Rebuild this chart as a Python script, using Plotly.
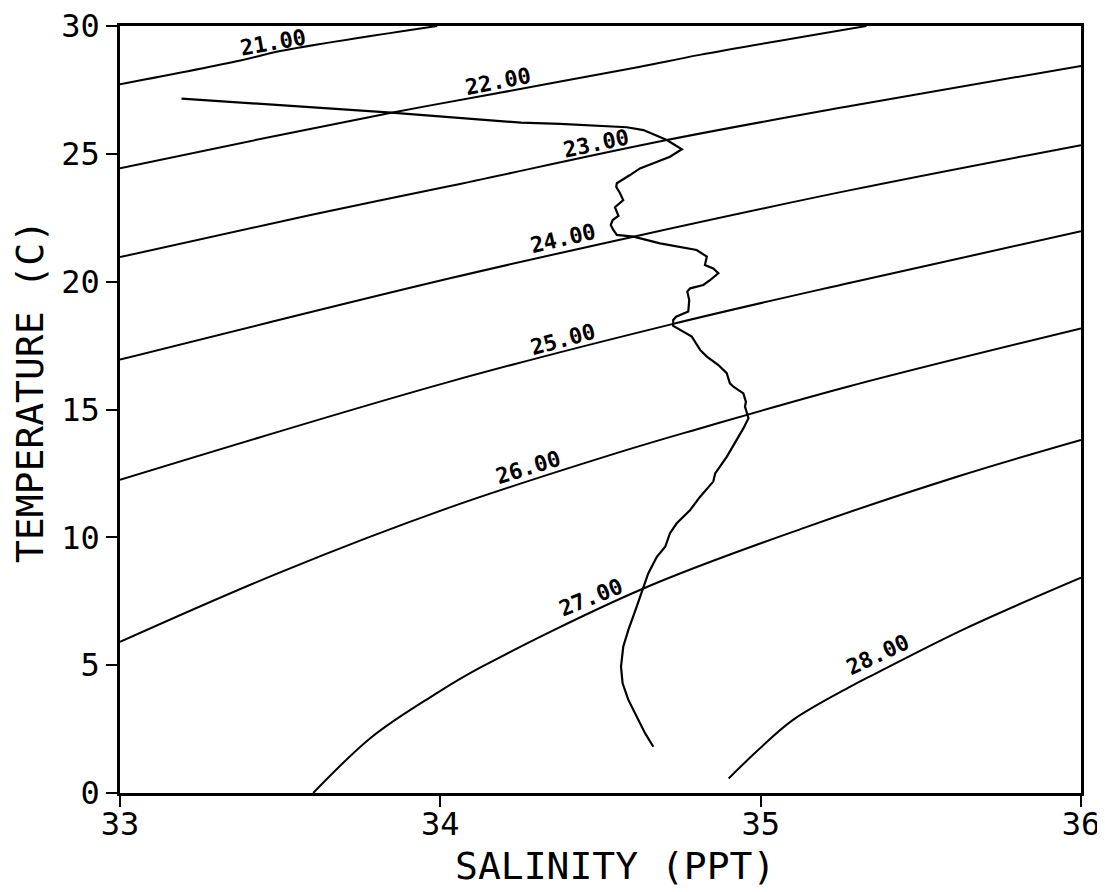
import plotly.graph_objects as go

# ---- CTD profile (salinity PPT, temperature C) ----
profile_sal = [33.192, 33.595, 33.847, 34.252, 34.374, 34.582, 34.634, 34.707, 34.754, 34.717,
               34.623, 34.592, 34.551, 34.549, 34.561, 34.571, 34.545, 34.556, 34.538, 34.532,
               34.540, 34.551, 34.603, 34.686, 34.800, 34.832, 34.826, 34.852, 34.868, 34.842,
               34.821, 34.780, 34.771, 34.777, 34.774, 34.736, 34.727, 34.727, 34.748, 34.785,
               34.811, 34.832, 34.868, 34.894, 34.904, 34.915, 34.946, 34.954, 34.951, 34.957,
               34.962, 34.946, 34.925, 34.894, 34.858, 34.852, 34.811, 34.780, 34.738, 34.717,
               34.702, 34.676, 34.649, 34.634, 34.613, 34.587, 34.571, 34.564, 34.569, 34.587,
               34.618, 34.639, 34.665]
profile_temp = [27.16, 26.82, 26.61, 26.22, 26.17, 26.04, 25.93, 25.54, 25.18, 24.89,
                24.43, 24.17, 23.85, 23.71, 23.46, 23.19, 22.91, 22.57, 22.41, 22.22,
                22.02, 21.83, 21.76, 21.50, 21.24, 20.98, 20.65, 20.52, 20.33, 20.06,
                19.87, 19.74, 19.61, 19.28, 18.83, 18.63, 18.50, 18.27, 18.11, 17.85,
                17.33, 17.07, 16.74, 16.42, 16.02, 15.89, 15.63, 15.30, 15.11, 14.85,
                14.66, 14.26, 13.81, 13.15, 12.50, 12.18, 11.59, 11.07, 10.55, 10.16,
                9.63, 9.24, 8.59, 8.01, 7.29, 6.38, 5.72, 4.94, 4.29, 3.64,
                2.86, 2.34, 1.81]

# ---- sigma-t isopycnals ----
sigma_labels = ["21.00", "22.00", "23.00", "24.00", "25.00", "26.00", "27.00", "28.00"]

sal_21 = [33.0, 33.376, 33.5, 33.99]
temp_21 = [27.72, 28.65, 29.02, 30.0]
sal_22 = [33.0, 33.5, 33.847, 34.13, 34.62, 34.81, 35.33]
temp_22 = [24.44, 25.74, 26.61, 27.26, 28.40, 28.87, 30.0]
sal_23 = [33.0, 33.595, 34.03, 34.707, 35.28, 36.0]
temp_23 = [20.96, 22.61, 23.74, 25.54, 26.87, 28.44]
sal_24 = [33.0, 34.03, 34.603, 35.28, 36.0]
temp_24 = [16.95, 20.13, 21.76, 23.58, 25.34]
sal_25 = [33.0, 34.03, 34.727, 35.28, 36.0]
temp_25 = [12.25, 16.09, 18.35, 19.96, 21.97]
sal_26 = [33.0, 33.5, 34.03, 34.58, 34.81, 35.28, 36.0]
temp_26 = [5.91, 8.63, 11.17, 13.41, 14.26, 15.92, 18.17]
sal_27 = [33.603, 33.786, 33.978, 34.124, 34.634, 35.14, 35.62, 36.0]
temp_27 = [0.0, 2.19, 3.82, 4.90, 8.0, 10.39, 12.4, 13.81]
sal_28 = [34.9, 34.998, 35.10, 35.28, 35.36, 35.64, 36.0]
temp_28 = [0.57, 1.75, 2.85, 4.16, 4.68, 6.44, 8.42]

isopycnal_sal = [sal_21, sal_22, sal_23, sal_24, sal_25, sal_26, sal_27, sal_28]
isopycnal_temp = [temp_21, temp_22, temp_23, temp_24, temp_25, temp_26, temp_27, temp_28]

# label anchor points (salinity, temperature) and text angles
label_sal = [33.478, 34.18, 34.486, 34.383, 34.383, 34.274, 34.47, 35.367]
label_temp = [29.37, 27.81, 25.42, 21.67, 17.72, 12.75, 7.63, 5.40]
label_angle = [-10, -11, -12, -13, -15, -17, -22, -25]

x_ticks = [33, 34, 35, 36]
y_ticks = [0, 5, 10, 15, 20, 25, 30]

fig = go.Figure()

for s, t in zip(isopycnal_sal, isopycnal_temp):
    fig.add_trace(go.Scatter(x=s, y=t, mode="lines", line=dict(color="black", width=2),
                             line_shape="spline", hoverinfo="skip", showlegend=False))

fig.add_trace(go.Scatter(x=profile_sal, y=profile_temp, mode="lines",
                         line=dict(color="black", width=2.2), showlegend=False))

mono = "DejaVu Sans Mono"
for txt, s, t, a in zip(sigma_labels, label_sal, label_temp, label_angle):
    fig.add_annotation(x=s, y=t, xref="x", yref="y", text=txt, showarrow=False,
                       textangle=a, xanchor="center", yanchor="middle",
                       font=dict(family=mono, size=22, color="black", weight="bold"))

fig.add_annotation(x=0.515, y=-0.0952, xref="paper", yref="paper", text="SALINITY (PPT)",
                   showarrow=False, xanchor="center", yanchor="middle",
                   font=dict(family=mono, size=38, color="black"))
fig.add_annotation(x=-0.0937, y=0.524, xref="paper", yref="paper", text="TEMPERATURE (C)",
                   showarrow=False, xanchor="center", yanchor="middle", textangle=-90,
                   font=dict(family=mono, size=38, color="black"))

axis_common = dict(showgrid=False, zeroline=False, showline=True, mirror=True,
                   linecolor="black", linewidth=2.5, ticks="outside", ticklen=11,
                   tickwidth=2, tickcolor="black", automargin=False,
                   ticklabeloverflow="allow",
                   tickfont=dict(family=mono, size=32, color="black"))

fig.update_xaxes(range=[33, 36], tickvals=x_ticks, ticktext=[str(v) for v in x_ticks],
                 ticklabelstandoff=-10, **axis_common)
fig.update_yaxes(range=[0, 30], tickvals=y_ticks, ticktext=[str(v) for v in y_ticks],
                 **axis_common)

fig.update_layout(width=1105, height=892, plot_bgcolor="white", paper_bgcolor="white",
                  margin=dict(l=112, r=32, t=18, b=107), showlegend=False)

fig.write_html("out.html")
